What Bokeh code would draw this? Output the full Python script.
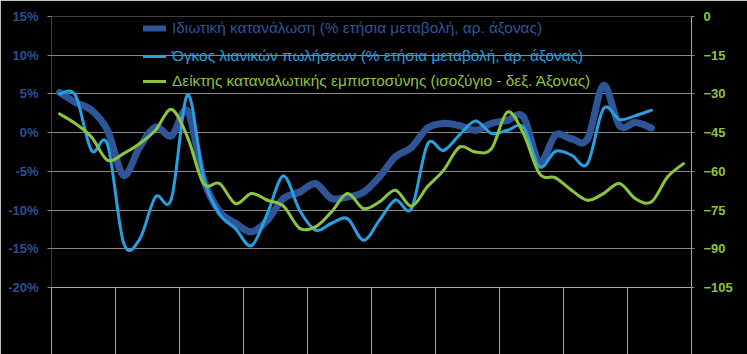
from bokeh.plotting import figure
from bokeh.models import (Range1d, LinearAxis, FixedTicker, Legend, LegendItem,
                          ColumnDataSource, CustomLabelingPolicy)
from bokeh.embed import file_html
from bokeh.resources import INLINE

# ---- data (quarterly) ----
quarters = list(range(40))
consumption = [5.2, 3.9, 2.9, 0.3, -5.5, -1.9, 0.7, -0.4, 2.8, -6.0,
               -10.2, -11.7, -12.8, -11.3, -8.5, -7.7, -6.6, -8.5, -8.3, -7.7,
               -5.7, -3.1, -1.9, 0.6, 1.2, 0.9, 0.3, 1.2, 1.6, 2.0,
               -3.8, -0.3, -0.8, -0.8, 6.1, 0.9, 1.3, 0.6]
retail = [5.0, 4.8, -2.3, -1.5, -14.2, -13.8, -8.3, -8.5, 4.9, -5.7,
          -10.5, -12.4, -14.6, -10.4, -5.6, -10.0, -12.6, -11.7, -11.1, -13.9,
          -11.3, -8.7, -9.8, -1.5, -2.3, -0.3, 1.5, -0.1, 0.3, 0.7,
          -4.4, -2.4, -2.9, -4.0, 3.1, 1.7, 2.2, 2.9]
confidence = [-37.7, -41.5, -46.7, -55.7, -53.1, -49.3, -44.1, -36.0, -46.7, -64.7,
              -64.7, -72.5, -68.6, -71.2, -73.5, -82.0, -81.5, -75.7, -68.6, -74.4,
              -71.8, -67.3, -73.5, -65.9, -59.6, -50.6, -52.5, -51.2, -37.0, -45.4,
              -60.9, -62.5, -67.3, -71.2, -68.6, -64.7, -70.6, -71.8, -62.2, -57.0]

year_edges = [-0.5 + 4 * k for k in range(11)]
left_ticks = [-20, -15, -10, -5, 0, 5, 10, 15]
right_ticks = [-105, -90, -75, -60, -45, -30, -15, 0]

labels = ["Ιδιωτική κατανάλωση (% ετήσια μεταβολή, αρ. άξονας)",
          "Όγκος λιανικών πωλήσεων (% ετήσια μεταβολή, αρ. άξονας)",
          "Δείκτης καταναλωτικής εμπιστοσύνης (ισοζύγιο - δεξ. Άξονας)"]

C_DARK = "#2F5597"
C_LIGHT = "#26A0E0"
C_GREEN = "#8DC43F"
C_GRID = "#8a8a8a"
C_AXIS = "#a6a6a6"
FONT = "Liberation Sans"


def bezier_parts(xs, ys):
    n = len(xs)
    out = dict(x0=[], y0=[], x1=[], y1=[], cx0=[], cy0=[], cx1=[], cy1=[])
    for i in range(n - 1):
        xm, ym = (xs[i - 1], ys[i - 1]) if i > 0 else (xs[i], ys[i])
        xa, ya = xs[i], ys[i]
        xb, yb = xs[i + 1], ys[i + 1]
        xn, yn = (xs[i + 2], ys[i + 2]) if i + 2 < n else (xs[i + 1], ys[i + 1])
        out["x0"].append(xa); out["y0"].append(ya)
        out["x1"].append(xb); out["y1"].append(yb)
        out["cx0"].append(xa + (xb - xm) / 6); out["cy0"].append(ya + (yb - ym) / 6)
        out["cx1"].append(xb - (xn - xa) / 6); out["cy1"].append(yb - (yn - ya) / 6)
    return ColumnDataSource(out)


p = figure(width=747, height=354, output_backend="svg", toolbar_location=None,
           x_range=Range1d(-0.5, 39.5), y_range=Range1d(-20, 15),
           min_border_left=51, min_border_right=56, min_border_top=16, min_border_bottom=67,
           background_fill_color="black", border_fill_color="black", outline_line_color=None)
p.extra_y_ranges = {"conf": Range1d(-105, 0)}

# grid
p.xgrid.visible = False
p.ygrid.ticker = FixedTicker(ticks=left_ticks)
p.ygrid.grid_line_color = C_GRID
p.ygrid.grid_line_width = 1

# bottom axis (tick marks only, no labels)
xa = p.xaxis[0]
xa.ticker = FixedTicker(ticks=year_edges)
xa.major_label_policy = CustomLabelingPolicy(
    code="try { return new indices.constructor(indices.size, 0); } catch (e) { return indices; }")
xa.major_label_text_font_size = "0px"
xa.major_label_standoff = 0
xa.major_tick_out = 67
xa.major_tick_in = 0
xa.minor_tick_line_color = None
xa.major_tick_line_color = C_AXIS
xa.axis_line_color = C_AXIS

# left axis
ya = p.yaxis[0]
ya.ticker = FixedTicker(ticks=left_ticks)
ya.major_label_overrides = {t: f"{t}%" for t in left_ticks}
ya.axis_line_color = None
ya.major_tick_line_color = C_GRID
ya.major_tick_out = 4
ya.major_tick_in = 0
ya.minor_tick_line_color = None
ya.major_label_standoff = 9
ya.major_label_text_color = "#2C4F92"
ya.major_label_text_font = FONT
ya.major_label_text_font_style = "bold"
ya.major_label_text_font_size = "13px"

# right axis
ra = LinearAxis(y_range_name="conf", ticker=FixedTicker(ticks=right_ticks))
ra.axis_line_color = C_AXIS
ra.major_tick_line_color = C_GRID
ra.major_tick_out = 3
ra.major_tick_in = 0
ra.minor_tick_line_color = None
ra.major_label_standoff = 9
ra.major_label_text_color = C_GREEN
ra.major_label_text_font = FONT
ra.major_label_text_font_style = "bold"
ra.major_label_text_font_size = "13px"
p.add_layout(ra, "right")

# series
p.bezier(x0="x0", y0="y0", x1="x1", y1="y1", cx0="cx0", cy0="cy0", cx1="cx1", cy1="cy1",
         source=bezier_parts(quarters[:len(consumption)], consumption),
         line_color=C_DARK, line_width=7, line_cap="round")
p.bezier(x0="x0", y0="y0", x1="x1", y1="y1", cx0="cx0", cy0="cy0", cx1="cx1", cy1="cy1",
         source=bezier_parts(quarters[:len(retail)], retail),
         line_color=C_LIGHT, line_width=3, line_cap="round")
p.bezier(x0="x0", y0="y0", x1="x1", y1="y1", cx0="cx0", cy0="cy0", cx1="cx1", cy1="cy1",
         source=bezier_parts(quarters[:len(confidence)], confidence), y_range_name="conf",
         line_color=C_GREEN, line_width=3, line_cap="round")

# legend (one per row so each label has its own colour)
nan = float("nan")
leg_specs = [(labels[0], C_DARK, 6, 250), (labels[1], C_LIGHT, 3, 222), (labels[2], C_GREEN, 3, 197)]
for lab, col, lw, vy in leg_specs:
    swatch = p.line(x=[nan, nan], y=[nan, nan], line_color=col, line_width=lw, line_cap="round")
    lg = Legend(items=[LegendItem(label=lab, renderers=[swatch])], location=(92, vy),
                padding=0, margin=0, spacing=0, glyph_width=23, glyph_height=16,
                label_height=16, label_standoff=6,
                label_text_font=FONT, label_text_font_size="15.4px", label_text_color=col,
                background_fill_alpha=0, border_line_alpha=0)
    p.add_layout(lg, "center")

open("out.html", "w").write(file_html(p, INLINE))
